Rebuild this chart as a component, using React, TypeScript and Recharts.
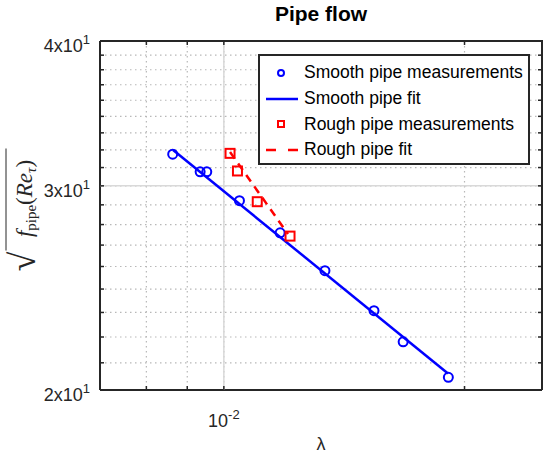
import { CartesianGrid, Legend, Scatter, ScatterChart, XAxis, YAxis } from "recharts";

// values (log-log axes)
const smoothX = [0.00863, 0.00934, 0.00952, 0.01046, 0.01176, 0.01338, 0.01541, 0.01676, 0.01909];
const smoothY = [31.95, 30.85, 30.85, 29.13, 27.33, 25.35, 23.41, 22.01, 20.51];
const roughX = [0.01018, 0.0104, 0.01101, 0.0121];
const roughY = [32.0, 30.9, 29.07, 27.15];
const smoothFitX = [0.00864, 0.01907];
const smoothFitY = [32.21, 20.67];
const roughFitX = [0.01018, 0.01203];
const roughFitY = [32.08, 27.26];

const xDomain = [0.007, 0.025];
const yDomain = [20, 40];
const xMajor = [0.01];
const xTicks = [0.008, 0.009, 0.01, 0.02];
const yMajor = [20, 30, 40];
const yTicks = [
	20, 21.11, 22.22, 23.33, 24.44, 25.56, 26.67, 27.78, 28.89, 30, 31.11, 32.22, 33.33, 34.44,
	35.56, 36.67, 37.78, 38.89, 40,
];
const legendItems = [
	{ name: "Smooth pipe measurements", kind: "circle", color: "#0000ff" },
	{ name: "Smooth pipe fit", kind: "line", color: "#0000ff" },
	{ name: "Rough pipe measurements", kind: "square", color: "#ff0000" },
	{ name: "Rough pipe fit", kind: "dash", color: "#ff0000" },
];

const zip = (xs: number[], ys: number[]) => xs.map((x, i) => ({ x, y: ys[i] }));
const smooth = zip(smoothX, smoothY);
const rough = zip(roughX, roughY);
const smoothFit = zip(smoothFitX, smoothFitY);
const roughFit = zip(roughFitX, roughFitY);

// major grid lines and edge marks placed in data space
const [x0, x1] = xDomain;
const [y0, y1] = yDomain;
const majorH = [
	{ x: x0, y: 30 },
	{ x: x1, y: 30 },
];
const majorV = [
	{ x: 0.01, y: y0 },
	{ x: 0.01, y: y1 },
];
const topMarks = xTicks.map((x) => ({ x, y: y1 }));
const rightMarks = yTicks.map((y) => ({ x: x1, y }));

const W = 550;
const H = 456;
const M = { top: 41, right: 8, bottom: 0, left: 0 };
const Y_AXIS_W = 100;
const X_AXIS_H = 66;

const AXIS = "#262626";
const SANS = "'Liberation Sans', Arial, sans-serif";
const SERIF = "'Liberation Serif', 'Times New Roman', serif";
const TICK_LEN = 4;

function LeftTick({ x, y, payload }: any) {
	const v = payload.value;
	const major = yMajor.includes(v);
	return (
		<g>
			<line x1={x} x2={x + TICK_LEN} y1={y} y2={y} stroke={AXIS} strokeWidth={1.5} />
			{major && (
				<text x={x - 10} y={y + 11} textAnchor="end" fontFamily={SANS} fontSize={18} fill="#262626">
					{`${v / 10}x10`}
					<tspan fontSize={13} dy={-8}>
						1
					</tspan>
				</text>
			)}
		</g>
	);
}

function BottomTick({ x, y, payload }: any) {
	const major = xMajor.includes(payload.value);
	return (
		<g>
			<line x1={x} x2={x} y1={y} y2={y - TICK_LEN} stroke={AXIS} strokeWidth={1.5} />
			{major && (
				<text x={x} y={y + 37} textAnchor="middle" fontFamily={SANS} fontSize={18} fill="#262626">
					10
					<tspan fontSize={13} dy={-8}>
						-2
					</tspan>
				</text>
			)}
		</g>
	);
}

function YLabel({ viewBox }: any) {
	const cy = viewBox.y + viewBox.height / 2 - 3;
	return (
		<g transform={`translate(32, ${cy}) rotate(-90)`} fontFamily={SERIF} fill="#262626">
			<text x={-49} y={3} textAnchor="middle" fontSize={36}>
				√
			</text>
			<line x1={-38} x2={64} y1={-26} y2={-26} stroke="#262626" strokeWidth={1} />
			<text x={14} y={0} textAnchor="middle" fontSize={23}>
				<tspan fontStyle="italic">f</tspan>
				<tspan fontSize={15} dy={4}>
					pipe
				</tspan>
				<tspan dy={-4}>(</tspan>
				<tspan fontStyle="italic">Re</tspan>
				<tspan fontStyle="italic" fontSize={15} dy={4}>
					τ
				</tspan>
				<tspan dy={-4}>)</tspan>
			</text>
		</g>
	);
}

function XLabel({ viewBox }: any) {
	return (
		<text
			x={viewBox.x + viewBox.width / 2}
			y={viewBox.y + 60}
			textAnchor="middle"
			fontFamily={SANS}
			fontSize={18}
			fill="#262626"
		>
			λ
		</text>
	);
}

function LegendBox() {
	return (
		<div
			style={{
				width: 272,
				height: 111,
				border: "2px solid #262626",
				background: "#fff",
				fontFamily: SANS,
				fontSize: 17.5,
				color: "#000",
				paddingTop: 4,
				boxSizing: "border-box",
			}}
		>
			{legendItems.map((it) => (
				<div key={it.name} style={{ display: "flex", alignItems: "center", height: 25.7 }}>
					<svg width={44} height={20} style={{ flex: "none" }}>
						{it.kind === "circle" && (
							<circle cx={21} cy={10} r={3} fill="none" stroke={it.color} strokeWidth={2} />
						)}
						{it.kind === "square" && (
							<rect x={18} y={7} width={6} height={6} fill="none" stroke={it.color} strokeWidth={2} />
						)}
						{it.kind === "line" && (
							<line x1={6} x2={38} y1={10} y2={10} stroke={it.color} strokeWidth={2.5} />
						)}
						{it.kind === "dash" && (
							<line
								x1={6}
								x2={38}
								y1={10}
								y2={10}
								stroke={it.color}
								strokeWidth={2.5}
								strokeDasharray="10 12"
							/>
						)}
					</svg>
					<span style={{ whiteSpace: "nowrap" }}>{it.name}</span>
				</div>
			))}
		</div>
	);
}

const Circle = (p: any) => (
	<circle cx={p.cx} cy={p.cy} r={4.5} fill="none" stroke="#0000ff" strokeWidth={2} />
);
const Square = (p: any) => (
	<rect x={p.cx - 4.5} y={p.cy - 4.5} width={9} height={9} fill="none" stroke="#ff0000" strokeWidth={2} />
);
const TopMark = (p: any) => (
	<line x1={p.cx} x2={p.cx} y1={p.cy} y2={p.cy + TICK_LEN} stroke={AXIS} strokeWidth={1.5} />
);
const RightMark = (p: any) => (
	<line x1={p.cx} x2={p.cx - TICK_LEN} y1={p.cy} y2={p.cy} stroke={AXIS} strokeWidth={1.5} />
);
const NoShape = () => <g />;

export default function App() {
	const plotLeft = M.left + Y_AXIS_W;
	const plotRight = W - M.right;
	const plotTop = M.top;
	const plotBottom = H - M.bottom - X_AXIS_H;
	return (
		<div
			style={{
				position: "absolute",
				left: 0,
				top: 0,
				width: W,
				height: H,
				background: "#fff",
				fontFamily: SANS,
			}}
		>
			<div
				style={{
					position: "absolute",
					left: 0,
					top: 2,
					width: 642,
					textAlign: "center",
					fontWeight: "bold",
					fontSize: 21,
					color: "#000",
				}}
			>
				Pipe flow
			</div>
			<ScatterChart width={W} height={H} margin={M}>
				<CartesianGrid stroke="#b8b8b8" strokeWidth={1.2} strokeDasharray="1.5 3.5" />
				<XAxis
					type="number"
					dataKey="x"
					scale="log"
					domain={xDomain}
					allowDataOverflow
					ticks={xTicks}
					interval={0}
					height={X_AXIS_H}
					tickSize={0}
					tickMargin={0}
					tickLine={false}
					tick={<BottomTick />}
					axisLine={{ stroke: AXIS, strokeWidth: 2 }}
					label={<XLabel />}
				/>
				<YAxis
					type="number"
					dataKey="y"
					scale="log"
					domain={yDomain}
					allowDataOverflow
					ticks={yTicks}
					interval={0}
					width={Y_AXIS_W}
					tickSize={0}
					tickMargin={0}
					tickLine={false}
					tick={<LeftTick />}
					axisLine={{ stroke: AXIS, strokeWidth: 2 }}
					label={<YLabel />}
				/>
				<Scatter
					name="major-h"
					data={majorH}
					line={{ stroke: "#d9d9d9", strokeWidth: 1.5 }}
					shape={NoShape}
					legendType="none"
					isAnimationActive={false}
				/>
				<Scatter
					name="major-v"
					data={majorV}
					line={{ stroke: "#d9d9d9", strokeWidth: 1.5 }}
					shape={NoShape}
					legendType="none"
					isAnimationActive={false}
				/>
				<Scatter
					name="Smooth pipe fit"
					data={smoothFit}
					line={{ stroke: "#0000ff", strokeWidth: 2.5 }}
					shape={NoShape}
					legendType="none"
					isAnimationActive={false}
				/>
				<Scatter
					name="Rough pipe fit"
					data={roughFit}
					line={{ stroke: "#ff0000", strokeWidth: 2.5, strokeDasharray: "8 6" }}
					shape={NoShape}
					legendType="none"
					isAnimationActive={false}
				/>
				<Scatter name="Smooth pipe measurements" data={smooth} shape={Circle} isAnimationActive={false} />
				<Scatter name="Rough pipe measurements" data={rough} shape={Square} isAnimationActive={false} />
				<Scatter name="top-marks" data={topMarks} shape={TopMark} legendType="none" isAnimationActive={false} />
				<Scatter
					name="right-marks"
					data={rightMarks}
					shape={RightMark}
					legendType="none"
					isAnimationActive={false}
				/>
				<Legend
					layout="vertical"
					align="center"
					verticalAlign="middle"
					content={<LegendBox />}
					wrapperStyle={{ position: "absolute", left: 258, top: 54, width: 272, height: 111 }}
				/>
			</ScatterChart>
			{/* top and right edges of the axes box */}
			<div
				style={{
					position: "absolute",
					left: plotLeft,
					top: plotTop - 1,
					width: plotRight - plotLeft + 1,
					height: plotBottom - plotTop + 1,
					borderTop: `2px solid ${AXIS}`,
					borderRight: `2px solid ${AXIS}`,
					boxSizing: "border-box",
					pointerEvents: "none",
				}}
			/>
		</div>
	);
}
